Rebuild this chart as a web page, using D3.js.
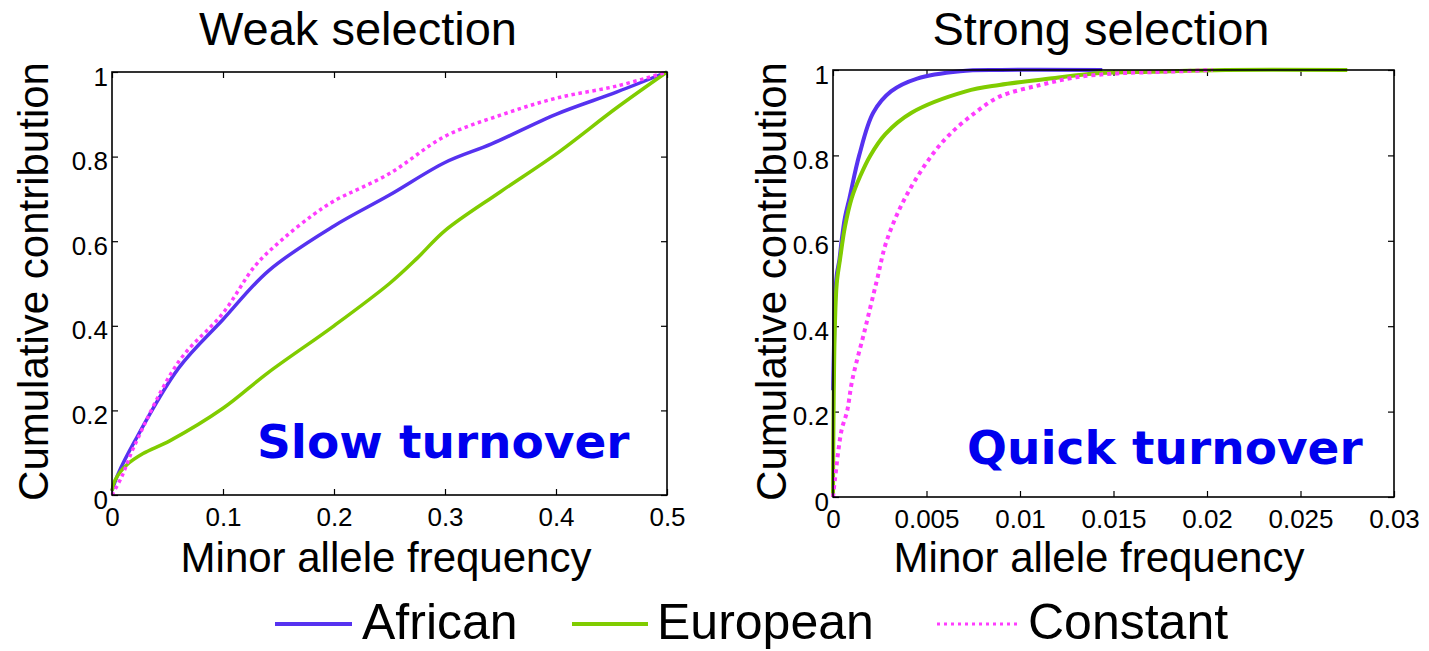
<!DOCTYPE html>
<html>
<head>
<meta charset="utf-8">
<script src="https://cdn.jsdelivr.net/npm/d3@7"></script>
<style>
  body { margin: 0; background: #fff; }
  svg { display: block; font-family: "Liberation Sans", Arial, sans-serif; }
</style>
</head>
<body>
<svg id="chart" width="1429" height="651"></svg>
<script>
// Series values: [minor allele frequency, cumulative contribution]
const weakAfrican = [
  [0, 0.01], [0.0057, 0.051], [0.02, 0.125], [0.06, 0.30], [0.1, 0.415],
  [0.141, 0.53], [0.2, 0.636], [0.25, 0.709], [0.3, 0.786], [0.342, 0.83],
  [0.4, 0.90], [0.455, 0.953], [0.5, 1.0]
];
const weakEuropean = [
  [0, 0.01], [0.0027, 0.035], [0.0132, 0.071], [0.028, 0.098], [0.052, 0.128],
  [0.1, 0.205], [0.141, 0.29], [0.2, 0.40], [0.25, 0.5], [0.275, 0.56], [0.3, 0.625],
  [0.35, 0.717], [0.4, 0.806], [0.455, 0.916], [0.5, 1.0]
];
const weakConstant = [
  [0, 0.0], [0.0087, 0.043], [0.02, 0.115], [0.06, 0.315], [0.1, 0.43], [0.129, 0.542],
  [0.153, 0.603], [0.181, 0.662], [0.2, 0.695], [0.25, 0.76], [0.3, 0.848],
  [0.35, 0.898], [0.4, 0.938], [0.455, 0.967], [0.5, 1.0]
];

const strongAfrican = [
  [0, 0.25], [0.00005, 0.35], [0.0001, 0.45], [0.0002, 0.52], [0.00034, 0.555],
  [0.00046, 0.6], [0.00064, 0.655], [0.00088, 0.7], [0.0014, 0.8], [0.00215, 0.9],
  [0.0031, 0.95], [0.0045, 0.98], [0.0068, 0.997], [0.009, 1.0], [0.0144, 1.0]
];
const strongEuropean = [
  [0, 0], [0.00003, 0.2], [0.0001, 0.4], [0.0002, 0.5], [0.00037, 0.555], [0.00064, 0.633],
  [0.001, 0.7], [0.00144, 0.75], [0.002, 0.8], [0.0028, 0.85], [0.0042, 0.9],
  [0.0071, 0.95], [0.0089, 0.965], [0.0116, 0.98], [0.0143, 0.993], [0.017, 0.996],
  [0.021, 1.0], [0.0275, 1.0]
];
const strongConstant = [
  [0, 0], [0.0001, 0.04], [0.00046, 0.157], [0.00075, 0.2], [0.00103, 0.274],
  [0.0017, 0.391], [0.00235, 0.508], [0.00287, 0.6], [0.00385, 0.7], [0.00528, 0.8],
  [0.00626, 0.85], [0.0076, 0.9], [0.0089, 0.9375], [0.0111, 0.965], [0.013, 0.983],
  [0.0152, 0.992], [0.0179, 0.996], [0.0203, 1.0]
];

// Tick labels
const yTicks = [0, 0.2, 0.4, 0.6, 0.8, 1];
const weakXTicks = [0, 0.1, 0.2, 0.3, 0.4, 0.5];
const strongXTicks = [0, 0.005, 0.01, 0.015, 0.02, 0.025, 0.03];

const seriesNames = ["African", "European", "Constant"];
const seriesColors = ["#5632f0", "#80cc00", "#ff3cff"];

const svg = d3.select("#chart");

function drawPanel(opts) {
  const { left, right, top, bottom, xMax, xTicks, title, titleX, yLabelX, xLabelX,
    note, notePos, data, lw } = opts;
  const x = d3.scaleLinear().domain([0, xMax]).range([left, right]);
  const y = d3.scaleLinear().domain([0, 1]).range([bottom, top]);
  const g = svg.append("g");

  const fmt = d => String(d);

  // axes with inward ticks on all four sides
  g.append("g").attr("transform", `translate(0,${bottom})`)
    .call(d3.axisBottom(x).tickValues(xTicks).tickFormat(fmt).tickSize(-6).tickPadding(13));
  g.append("g").attr("transform", `translate(0,${top})`)
    .call(d3.axisTop(x).tickValues(xTicks).tickFormat("").tickSize(-6));
  const yl = g.append("g").attr("transform", `translate(${left},0)`)
    .call(d3.axisLeft(y).tickValues(yTicks).tickFormat(fmt).tickSize(-6).tickPadding(4));
  g.append("g").attr("transform", `translate(${right},0)`)
    .call(d3.axisRight(y).tickValues(yTicks).tickFormat("").tickSize(-6));

  g.selectAll(".domain").remove();
  g.selectAll(".tick line").attr("stroke", "#000").attr("stroke-width", 1.2);
  g.selectAll(".tick text")
    .attr("font-family", "Liberation Sans, Arial, sans-serif")
    .attr("font-size", 26).attr("fill", "#000");
  yl.selectAll(".tick text").attr("dy", "0.5em");

  // series
  const line = d3.line()
    .x(d => x(d[0]))
    .y(d => y(d[1]))
    .curve(d3.curveCatmullRom.alpha(0.5));

  data.forEach((s, i) => {
    const p = g.append("path")
      .datum(s)
      .attr("d", line)
      .attr("fill", "none")
      .attr("stroke", seriesColors[i])
      .attr("stroke-width", lw);
    if (i === 2) p.attr("stroke-dasharray", `${lw},${lw}`);
  });

  // box
  g.append("rect")
    .attr("x", left).attr("y", top)
    .attr("width", right - left).attr("height", bottom - top)
    .attr("fill", "none").attr("stroke", "#000").attr("stroke-width", 1.6);

  // titles and labels
  g.append("text")
    .attr("x", titleX).attr("y", 45)
    .attr("text-anchor", "middle").attr("font-size", 47)
    .text(title);

  g.append("text")
    .attr("transform", `translate(${yLabelX},${(top + bottom) / 2 - 2}) rotate(-90)`)
    .attr("text-anchor", "middle").attr("font-size", 42)
    .text("Cumulative contribution");

  g.append("text")
    .attr("x", xLabelX).attr("y", 572)
    .attr("text-anchor", "middle").attr("font-size", 42)
    .text("Minor allele frequency");

  g.append("text")
    .attr("x", x(notePos[0])).attr("y", y(notePos[1]))
    .attr("font-family", "DejaVu Sans, Verdana, sans-serif")
    .attr("font-weight", "bold").attr("font-size", 47)
    .attr("fill", "#0000ee")
    .text(note);
}

drawPanel({
  left: 112, right: 667, top: 72, bottom: 495, xMax: 0.5, xTicks: weakXTicks,
  title: "Weak selection", titleX: 358, yLabelX: 48, xLabelX: 386,
  note: "Slow turnover", notePos: [0.1306, 0.0875],
  data: [weakAfrican, weakEuropean, weakConstant], lw: 3.5
});

drawPanel({
  left: 833, right: 1394, top: 70, bottom: 497, xMax: 0.03, xTicks: strongXTicks,
  title: "Strong selection", titleX: 1101, yLabelX: 786, xLabelX: 1099,
  note: "Quick turnover", notePos: [0.00717, 0.0773],
  data: [strongAfrican, strongEuropean, strongConstant], lw: 4
});

// legend
const legendItems = [
  { x1: 275, x2: 352, tx: 362 },
  { x1: 572, x2: 648, tx: 657 },
  { x1: 937, x2: 1017, tx: 1028 }
];
const lg = svg.append("g");
legendItems.forEach((d, i) => {
  const l = lg.append("line")
    .attr("x1", d.x1).attr("x2", d.x2).attr("y1", 624).attr("y2", 624)
    .attr("stroke", seriesColors[i]).attr("stroke-width", i === 2 ? 3 : 4);
  if (i === 2) l.attr("stroke-dasharray", "3,4");
  lg.append("text")
    .attr("x", d.tx).attr("y", 639)
    .attr("font-size", 50)
    .text(seriesNames[i]);
});
</script>
</body>
</html>
